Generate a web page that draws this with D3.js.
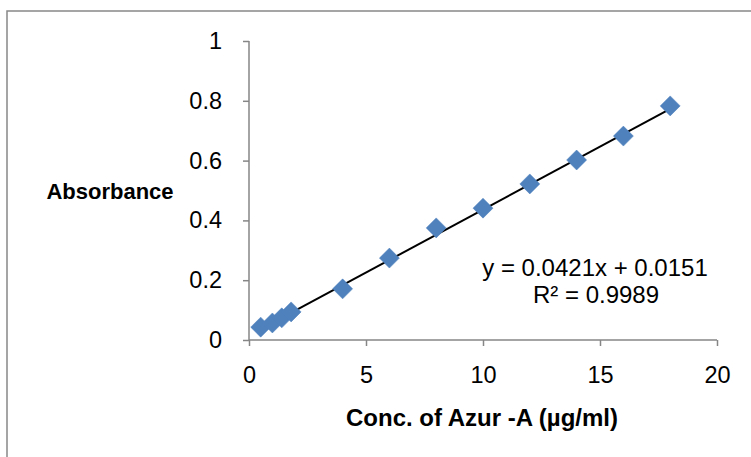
<!DOCTYPE html>
<html><head><meta charset="utf-8">
<script src="https://cdn.jsdelivr.net/npm/d3@7"></script>
<style>body{margin:0;background:#fff}svg{display:block;font-family:"Liberation Sans",Arial,sans-serif}</style>
</head><body><svg id="c" width="751" height="457"></svg>
<script>
const concentrations = [0.5, 1, 1.4, 1.8, 4, 6, 8, 10, 12, 14, 16, 18];
const absorbance = [0.043, 0.057, 0.074, 0.094, 0.171, 0.274, 0.375, 0.441, 0.522, 0.602, 0.682, 0.783];
const xTicks = [0, 5, 10, 15, 20];
const yTicks = [0, 0.2, 0.4, 0.6, 0.8, 1];
const slope = 0.0421, intercept = 0.0151, r2 = "0.9989";

const svg = d3.select("#c");
const x = d3.scaleLinear().domain([0, 20]).range([249, 717]);
const y = d3.scaleLinear().domain([0, 1]).range([340, 41]);
const grey = "#868686";

svg.append("rect").attr("x", 7).attr("y", 11).attr("width", 760).attr("height", 460)
  .attr("fill", "#fff").attr("stroke", "#888").attr("stroke-width", 1.5);

const ya = svg.append("g").attr("transform", `translate(${x(0)},0)`)
  .call(d3.axisLeft(y).tickValues(yTicks).tickSize(6).tickPadding(21).tickFormat(d3.format("")));
const xa = svg.append("g").attr("transform", `translate(0,${y(0)})`)
  .call(d3.axisBottom(x).tickValues(xTicks).tickSize(6).tickPadding(20));
[ya, xa].forEach(g => {
  g.selectAll("path,line").attr("stroke", grey).attr("stroke-width", 1.5);
  g.select(".domain").attr("d", null);
  g.selectAll("text").attr("font-size", 23.5).attr("fill", "#000").attr("font-family", "Liberation Sans, Arial, sans-serif");
});
ya.append("line").attr("x1", 0).attr("x2", 0).attr("y1", y(1)).attr("y2", y(0)).attr("stroke", grey).attr("stroke-width", 1.5);
xa.append("line").attr("x1", x(0)).attr("x2", x(20)).attr("y1", 0).attr("y2", 0).attr("stroke", grey).attr("stroke-width", 1.5);

// trendline
const x0 = d3.min(concentrations), x1 = d3.max(concentrations);
svg.append("line").attr("x1", x(x0)).attr("y1", y(slope * x0 + intercept))
  .attr("x2", x(x1)).attr("y2", y(slope * x1 + intercept))
  .attr("stroke", "#000").attr("stroke-width", 2);

// markers (diamonds)
const r = 10;
svg.append("g").selectAll("path").data(concentrations.map((c, i) => [c, absorbance[i]]))
  .join("path")
  .attr("d", d => { const cx = x(d[0]), cy = y(d[1]); return `M${cx},${cy - r}L${cx + r},${cy}L${cx},${cy + r}L${cx - r},${cy}Z`; })
  .attr("fill", "#4F81BD").attr("stroke", "#4F81BD").attr("stroke-width", 0.5);

// trendline label
svg.append("text").attr("x", 595).attr("y", 276).attr("text-anchor", "middle").attr("font-size", 24)
  .text(`y = ${slope}x + ${intercept}`);
svg.append("text").attr("x", 596).attr("y", 303).attr("text-anchor", "middle").attr("font-size", 24)
  .text(`R² = ${r2}`);

// axis titles
svg.append("text").attr("x", 482).attr("y", 426).attr("text-anchor", "middle").attr("font-size", 24)
  .attr("font-weight", "bold").text("Conc. of Azur -A (µg/ml)");
svg.append("text").attr("x", 110).attr("y", 199).attr("text-anchor", "middle").attr("font-size", 22)
  .attr("font-weight", "bold").text("Absorbance");
</script></body></html>
